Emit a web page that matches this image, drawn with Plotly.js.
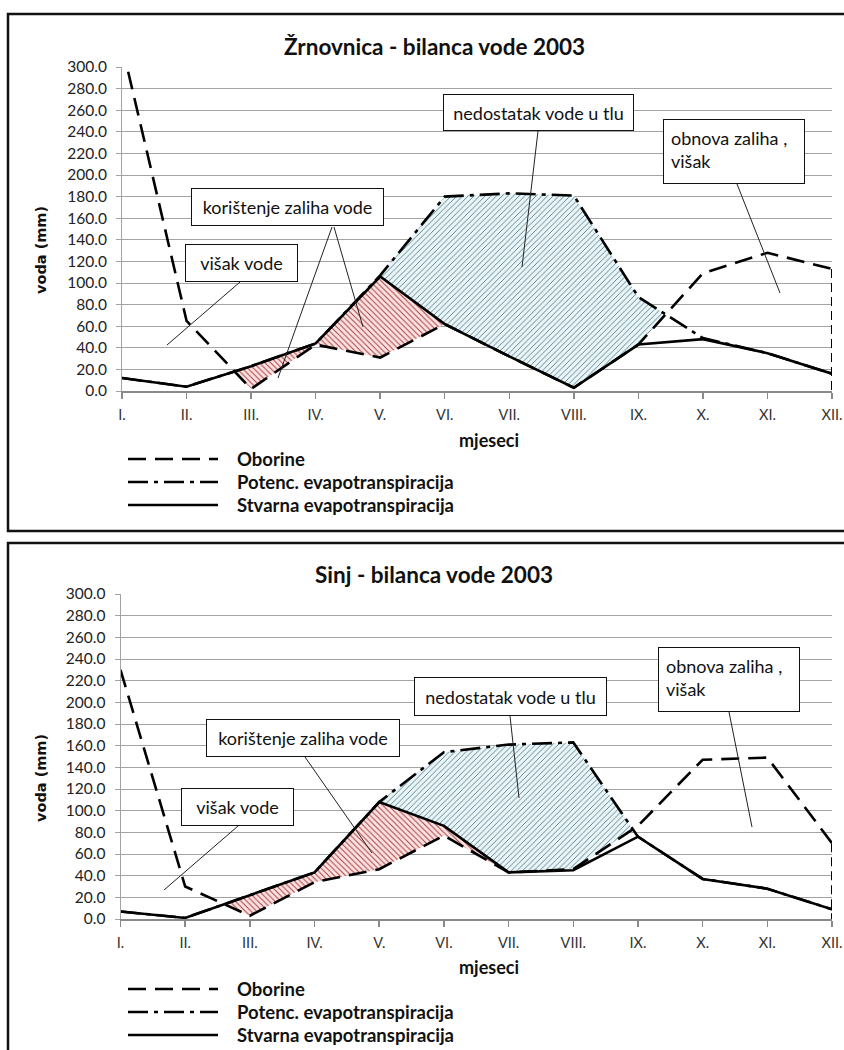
<!DOCTYPE html>
<html>
<head>
<meta charset="utf-8">
<script src="https://cdn.plot.ly/plotly-3.0.1.min.js"></script>
<style>
  html, body { margin: 0; padding: 0; background: #fff; }
  #chart { width: 844px; height: 1050px; }
</style>
</head>
<body>
<div id="chart"></div>
<script>
// ---------- DATA ----------
const months = ['I.', 'II.', 'III.', 'IV.', 'V.', 'VI.', 'VII.', 'VIII.', 'IX.', 'X.', 'XI.', 'XII.'];

// Žrnovnica 2003 (mm)
const zrnOborine = [320, 65, 2, 43, 31, 62, 32, 3, 43, 109, 128, 113];
const zrnPotEvap = [12, 4, 23, 44, 107, 180, 183, 181, 87, 49, 35, 16];
const zrnStvEvap = [12, 4, 23, 44, 106, 62, 32, 3, 43, 48, 35, 16];

// Sinj 2003 (mm)
const sinjOborine = [230, 30, 3, 34, 46, 77, 43, 46, 86, 147, 149, 70];
const sinjPotEvap = [7, 1, 22, 43, 108, 154, 161, 163, 76, 37, 28, 9];
const sinjStvEvap = [7, 1, 22, 43, 108, 86, 43, 45, 76, 37, 28, 9];

const seriesNames = ['Oborine', 'Potenc. evapotranspiracija', 'Stvarna evapotranspiracija'];
const titles = ['Žrnovnica - bilanca vode 2003', 'Sinj - bilanca vode 2003'];
const boxLabels = ['višak vode', 'korištenje zaliha vode', 'nedostatak vode u tlu', 'obnova zaliha ,<br>višak'];

// ---------- HELPERS ----------
const W = 844, H = 1050;
const px = x => x / W;
const py = y => 1 - y / H;
const xIdx = months.map((m, i) => i);

function interp(arr, x) {
  const i = Math.min(Math.floor(x), arr.length - 2);
  const t = x - i;
  return arr[i] + (arr[i + 1] - arr[i]) * t;
}
// band polygon: top/bottom functions of the series, with breakpoints at every crossing
function band(list, topFn, botFn) {
  const xs = [];
  for (let i = 0; i < list[0].length - 1; i++) {
    const ts = [0];
    for (let a = 0; a < list.length; a++) for (let b = a + 1; b < list.length; b++) {
      const d0 = list[a][i] - list[b][i], d1 = list[a][i + 1] - list[b][i + 1];
      if (d0 * d1 < 0) ts.push(d0 / (d0 - d1));
    }
    ts.sort((p, q) => p - q);
    ts.forEach(t => xs.push(i + t));
  }
  xs.push(list[0].length - 1);
  const vals = x => list.map(s => interp(s, x));
  const top = xs.map(x => topFn(vals(x)));
  const bot = xs.map(x => botFn(vals(x)));
  return { x: xs.concat(xs.slice().reverse()), y: top.concat(bot.slice().reverse()) };
}

const DASH_P = '18px,9px';
const DASH_PET = '20px,6px,4px,6px';

function chartTraces(P, PET, AET, xa, ya) {
  // korištenje zaliha (AET above P)
  const red = band([P, PET, AET], v => Math.max(v[2], v[0]), v => v[0]);
  // nedostatak vode (PET above max(AET,P))
  const cyan = band([P, PET, AET], v => Math.max(v[1], v[2], v[0]), v => Math.max(v[2], v[0]));
  return [
    { x: red.x, y: red.y, xaxis: xa, yaxis: ya, mode: 'lines', fill: 'toself', line: { width: 0, color: 'rgba(0,0,0,0)' },
      fillcolor: '#f9e4e4', fillpattern: { shape: '\\', fgcolor: '#b03c3c', bgcolor: '#f9e4e4', size: 4, solidity: 0.25 },
      hoverinfo: 'skip', showlegend: false },
    { x: cyan.x, y: cyan.y, xaxis: xa, yaxis: ya, mode: 'lines', fill: 'toself', line: { width: 0, color: 'rgba(0,0,0,0)' },
      fillcolor: '#eaf5f8', fillpattern: { shape: '/', fgcolor: '#4f7886', bgcolor: '#eaf5f8', size: 4, solidity: 0.22 },
      hoverinfo: 'skip', showlegend: false },
    { x: xIdx, y: P, xaxis: xa, yaxis: ya, mode: 'lines', name: seriesNames[0],
      line: { color: '#000', width: 2.6, dash: DASH_P }, showlegend: false },
    { x: [xIdx[11], xIdx[11]], y: [P[11], 0], xaxis: xa, yaxis: ya, mode: 'lines',
      line: { color: '#000', width: 2, dash: '9px,5px' }, hoverinfo: 'skip', showlegend: false },
    { x: xIdx, y: PET, xaxis: xa, yaxis: ya, mode: 'lines', name: seriesNames[1],
      line: { color: '#000', width: 2.6, dash: DASH_PET }, showlegend: false },
    { x: xIdx, y: AET, xaxis: xa, yaxis: ya, mode: 'lines', name: seriesNames[2],
      line: { color: '#000', width: 2.6 }, showlegend: false }
  ];
}

const data = [].concat(
  chartTraces(zrnOborine, zrnPotEvap, zrnStvEvap, 'x', 'y'),
  chartTraces(sinjOborine, sinjPotEvap, sinjStvEvap, 'x2', 'y2')
);

const yTickFont = { family: 'Lato, sans-serif', size: 15.5, color: '#222' };
const xTickFont = { family: 'Lato, sans-serif', size: 14.5, color: '#333' };
function xAxis(domain, anchor) {
  return { domain, anchor, range: [0, 11], tickvals: xIdx, ticktext: months, showgrid: false,
    showline: true, linecolor: '#8a8a8a', linewidth: 2, ticks: 'outside', ticklen: 6, tickcolor: '#8a8a8a',
    tickwidth: 1.5, tickfont: xTickFont, ticklabelstandoff: 4, zeroline: false, fixedrange: true };
}
function yAxis(domain, anchor) {
  return { domain, anchor, range: [0, 300], dtick: 20, tick0: 0, tickformat: '.1f', showgrid: true,
    gridcolor: '#a3a3a3', gridwidth: 1, showline: true, linecolor: '#a3a3a3', linewidth: 1,
    ticks: 'outside', ticklen: 5, tickcolor: '#a3a3a3', tickfont: yTickFont, ticklabelstandoff: 6,
    zeroline: false, fixedrange: true };
}

// layout geometry (pixels)
const G = [
  { left: 122, right: 832, y0: 391, y300: 67, frameTop: 14, frameBot: 531, titleY: 46, yTitleY: 250, xTitleY: 440,
    legY: [459, 482, 505],
    boxes: [[185, 298, 244, 282], [191, 384, 188, 226], [443, 634, 94, 131], [663, 805, 119, 184]],
    leaders: [[240, 282, 167, 345], [332, 227, 278, 378], [334, 227, 363, 327], [538, 131, 522, 267], [737, 184, 780, 293]] },
  { left: 120.5, right: 832, y0: 919, y300: 594, frameTop: 543, frameBot: 1060, titleY: 574, yTitleY: 778, xTitleY: 967,
    legY: [989, 1012, 1035],
    boxes: [[181, 294, 788, 826], [206, 400, 719, 757], [414, 607, 677, 716], [658, 800, 647, 712]],
    leaders: [[238, 826, 164, 890], [305, 757, 372, 853], [510, 716, 519, 798], [729, 712, 752, 827]] }
];

const layout = {
  width: W, height: H, margin: { l: 0, r: 0, t: 0, b: 0 },
  paper_bgcolor: '#fff', plot_bgcolor: 'rgba(0,0,0,0)',
  xaxis: xAxis([px(G[0].left), px(G[0].right)], 'y'),
  yaxis: yAxis([py(G[0].y0), py(G[0].y300)], 'x'),
  xaxis2: xAxis([px(G[1].left), px(G[1].right)], 'y2'),
  yaxis2: yAxis([py(G[1].y0), py(G[1].y300)], 'x2'),
  shapes: [], annotations: [], showlegend: false
};

const boxFont = { family: 'Lato, sans-serif', size: 18, color: '#111' };
G.forEach((g, k) => {
  // frame
  layout.shapes.push({ type: 'rect', xref: 'paper', yref: 'paper', x0: px(8), x1: px(850),
    y0: py(g.frameBot), y1: py(g.frameTop), line: { color: '#111', width: 2.5 } });
  // title
  layout.annotations.push({ text: titles[k], xref: 'paper', yref: 'paper', x: px(434), y: py(g.titleY),
    showarrow: false, xanchor: 'center', yanchor: 'middle',
    font: { family: 'Lato, sans-serif', size: 22.5, weight: 'bold', color: '#111' } });
  // axis titles
  layout.annotations.push({ text: 'voda (mm)', xref: 'paper', yref: 'paper', x: px(41), y: py(g.yTitleY),
    showarrow: false, textangle: -90, xanchor: 'center', yanchor: 'middle',
    font: { family: 'DejaVu Sans, sans-serif', size: 14.5, weight: 'bold', color: '#111' } });
  layout.annotations.push({ text: 'mjeseci', xref: 'paper', yref: 'paper', x: px(489), y: py(g.xTitleY),
    showarrow: false, xanchor: 'center', yanchor: 'middle',
    font: { family: 'Lato, sans-serif', size: 18, weight: 'bold', color: '#111' } });
  // leader lines
  g.leaders.forEach(l => layout.shapes.push({ type: 'line', xref: 'paper', yref: 'paper',
    x0: px(l[0]), y0: py(l[1]), x1: px(l[2]), y1: py(l[3]), line: { color: '#222', width: 1 } }));
  // text boxes
  g.boxes.forEach((b, i) => {
    const isTwo = i === 3;
    const pad = isTwo ? 7 : 0;
    layout.annotations.push({ text: boxLabels[i], xref: 'paper', yref: 'paper',
      x: px((b[0] + b[1]) / 2), y: py((b[2] + b[3]) / 2), xanchor: 'center', yanchor: 'middle',
      showarrow: false, width: (b[1] - b[0]) - 2 * pad - 2, height: (b[3] - b[2]) - 2 * pad - 2,
      align: isTwo ? 'left' : 'center', valign: isTwo ? 'top' : 'middle',
      bgcolor: '#fff', bordercolor: '#111', borderwidth: 1, borderpad: pad, font: boxFont });
  });
  // legend
  const dashes = [DASH_P, DASH_PET, 'solid'];
  g.legY.forEach((yy, i) => {
    layout.shapes.push({ type: 'line', xref: 'paper', yref: 'paper', x0: px(128), x1: px(218),
      y0: py(yy), y1: py(yy), line: { color: '#000', width: 2.6, dash: dashes[i] } });
    layout.annotations.push({ text: seriesNames[i], xref: 'paper', yref: 'paper', x: px(235), y: py(yy),
      xanchor: 'left', yanchor: 'middle', showarrow: false,
      font: { family: 'Lato, sans-serif', size: 18.5, weight: 'bold', color: '#111' } });
  });
});

Plotly.newPlot('chart', data, layout, { staticPlot: true, displayModeBar: false });
</script>
</body>
</html>
